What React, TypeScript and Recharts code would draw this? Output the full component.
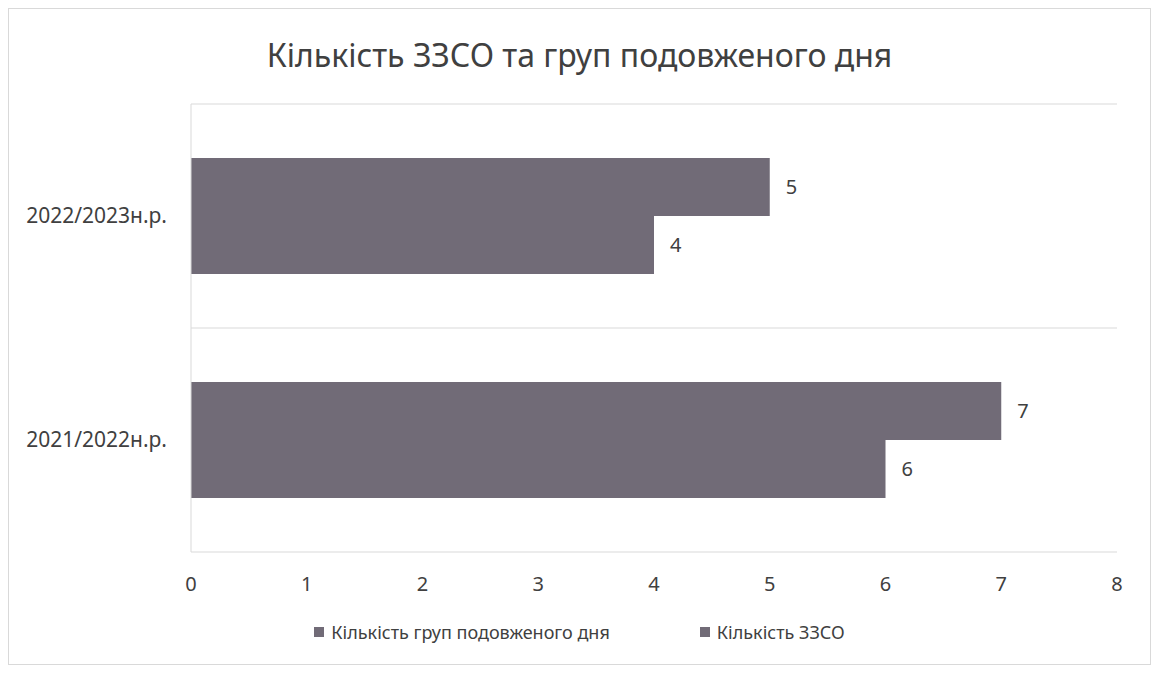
import React from 'react';
import { BarChart, Bar, XAxis, YAxis, CartesianGrid, LabelList, Legend } from 'recharts';

const categories = ['2022/2023н.р.', '2021/2022н.р.'];
const zzsoValues = [5, 7];
const groupValues = [4, 6];
const xTicks = [0, 1, 2, 3, 4, 5, 6, 7, 8];
const groupsName = 'Кількість груп подовженого дня';
const zzsoName = 'Кількість ЗЗСО';
const titleText = 'Кількість ЗЗСО та груп подовженого дня';

const data = categories.map((c, i) => ({ category: c, zzso: zzsoValues[i], groups: groupValues[i] }));

const BAR = '#716b77';
const TEXT = '#404040';
const GRID = '#d9d9d9';
const W = 1141;
const H = 655;

const renderLegend = () => (
  <div style={{ display: 'flex', justifyContent: 'center', gap: 90, fontSize: 18, color: TEXT }}>
    {[groupsName, zzsoName].map((n) => (
      <span key={n} style={{ display: 'inline-flex', alignItems: 'center' }}>
        <span style={{ width: 10, height: 10, background: BAR, marginRight: 7, display: 'inline-block' }} />
        {n}
      </span>
    ))}
  </div>
);

export default function App() {
  return (
    <div style={{ position: 'relative', width: W, height: H, border: `1px solid ${GRID}`, fontFamily: '"Noto Sans", sans-serif', background: '#fff' }}>
      <div style={{ position: 'absolute', top: 24, left: 0, width: W, textAlign: 'center', fontSize: 32, lineHeight: '44px', color: TEXT }}>
        {titleText}
      </div>
      <BarChart
        width={W}
        height={H}
        data={data}
        layout="vertical"
        margin={{ top: 95, right: 33, bottom: 82, left: 0 }}
        barGap={0}
      >
        <CartesianGrid
          vertical={false}
          stroke={GRID}
          horizontalCoordinatesGenerator={({ offset }: any) => {
            const n = categories.length;
            const pts = [];
            for (let i = 0; i <= n; i++) pts.push(offset.top + (i * offset.height) / n);
            return pts;
          }}
        />
        <XAxis
          type="number"
          domain={[0, 8]}
          ticks={xTicks}
          axisLine={false}
          tickLine={false}
          tickMargin={19}
          height={30}
          tick={{ fill: TEXT, fontSize: 20 }}
        />
        <YAxis
          type="category"
          dataKey="category"
          width={182}
          axisLine={{ stroke: GRID }}
          tickLine={false}
          tickMargin={18}
          tick={{ fill: TEXT, fontSize: 21 }}
        />
        <Legend verticalAlign="middle" layout="horizontal" content={renderLegend} wrapperStyle={{ top: 611, left: 0, width: W }} />
        <Bar dataKey="zzso" name={zzsoName} fill={BAR} barSize={58} isAnimationActive={false}>
          <LabelList dataKey="zzso" position="right" offset={16} fill={TEXT} fontSize={20} />
        </Bar>
        <Bar dataKey="groups" name={groupsName} fill={BAR} barSize={58} isAnimationActive={false}>
          <LabelList dataKey="groups" position="right" offset={16} fill={TEXT} fontSize={20} />
        </Bar>
      </BarChart>
    </div>
  );
}
